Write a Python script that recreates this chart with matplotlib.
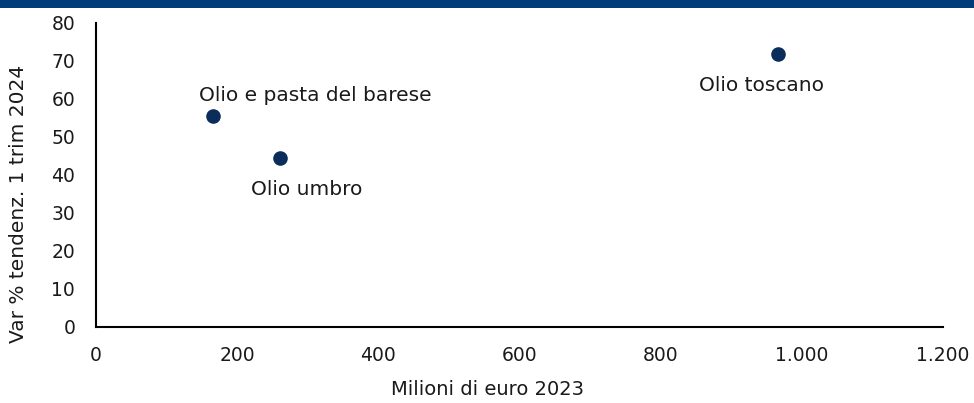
import matplotlib.pyplot as plt
from matplotlib.patches import Rectangle
from matplotlib.ticker import FuncFormatter

# valori
nomi = ['Olio e pasta del barese', 'Olio umbro', 'Olio toscano']
milioni_2023 = [166, 260, 966]
var_tendenz = [55.5, 44.5, 71.8]

plt.rcParams['font.family'] = ['DejaVu Sans']
testo = '#1a1a1a'

fig = plt.figure(figsize=(9.74, 4.03), dpi=100)
ax = fig.add_axes([0.0986, 0.1886, 0.8696, 0.7544])

# banda blu in alto
fig.patches.append(Rectangle((0, 395 / 403), 1, 8 / 403, transform=fig.transFigure,
                             facecolor='#003B7A', edgecolor='none'))

ax.scatter(milioni_2023, var_tendenz, s=90, color='#0B2D5B', zorder=3)

# posizione etichette (offset in punti)
offsets = [(73.4, 15.1), (19.4, -23), (-11.5, -22.3)]
for nome, x, y, off in zip(nomi, milioni_2023, var_tendenz, offsets):
    ax.annotate(nome, (x, y), xytext=off, textcoords='offset points',
                ha='center', va='center', fontsize=14.5, color=testo)

ax.set_xlim(0, 1200)
ax.set_ylim(0, 80)
ax.set_xticks(range(0, 1201, 200))
ax.set_yticks(range(0, 81, 10))
ax.xaxis.set_major_formatter(FuncFormatter(lambda v, p: f'{int(v):,}'.replace(',', '.')))
ax.tick_params(length=0, labelsize=13.5, colors=testo)
ax.tick_params(axis='x', pad=14)
ax.tick_params(axis='y', pad=15)

for s in ['top', 'right']:
    ax.spines[s].set_visible(False)
for s in ['left', 'bottom']:
    ax.spines[s].set_linewidth(1.5)
    ax.spines[s].set_color('black')

ax.set_xlabel('Milioni di euro 2023', fontsize=14, color=testo, va='center', ha='center')
ax.xaxis.set_label_coords(0.4616, -0.207)
ax.set_ylabel('Var % tendenz. 1 trim 2024', fontsize=14.5, color=testo, va='center', ha='center')
ax.yaxis.set_label_coords(-0.0921, 0.4046)

fig.savefig('out.png', dpi=100, facecolor='white')
